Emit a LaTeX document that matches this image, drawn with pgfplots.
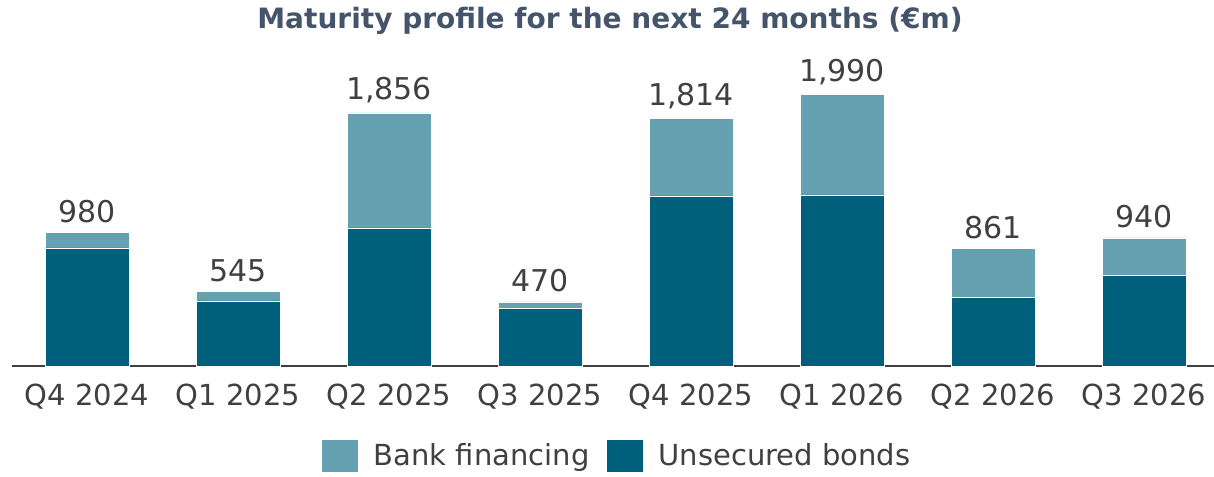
\documentclass[border=0pt]{standalone}
\usepackage{fontspec}
\setmainfont{DejaVu Sans}
\usepackage{pgfplots}
\pgfplotsset{compat=1.18}
\definecolor{bank}{HTML}{66A1B1}
\definecolor{unsec}{HTML}{005F7A}
\definecolor{txt}{HTML}{404040}
\definecolor{ttl}{HTML}{44546A}
\begin{document}
\begin{tikzpicture}
\begin{axis}[
  scale only axis, width=601pt, height=170.5pt,
  xmin=-0.5, xmax=7.46, ymin=0, ymax=2500,
  ybar stacked, bar width=42pt,
  axis x line*=bottom, axis y line=none,
  axis line style={-, txt, line width=1pt},
  xtick={0,1,2,3,4,5,6,7},
  xticklabels={Q4 2024,Q1 2025,Q2 2025,Q3 2025,Q4 2025,Q1 2026,Q2 2026,Q3 2026},
  major tick length=0pt,
  ticklabel style={font=\fontsize{14.5}{17}\selectfont, text=txt},
  xticklabel style={yshift=-5.5pt},
  /pgf/number format/assume math mode=true,
  legend style={at={(0.5046,-0.264)}, anchor=center, draw=none, legend columns=2,
    font=\fontsize{14.5}{17}\selectfont, text=txt,
    /tikz/every even column/.append style={column sep=6.5pt}},
  legend image code/.code={\fill[#1, draw=none] (0pt,-8pt) rectangle (18pt,8pt); \path[draw=none, fill=none] (0pt,0pt) -- (24pt,0pt);},
  reverse legend,
  clip=false,
]
\addplot[fill=unsec, draw=white, line width=0.2pt] coordinates {
  (0,866) (1,478) (2,1013) (3,423) (4,1247) (5,1255) (6,505) (7,666)};
\addlegendentry{Unsecured bonds}
\addplot[fill=bank, draw=white, line width=0.2pt] coordinates {
  (0,114) (1,67) (2,843) (3,47) (4,567) (5,735) (6,356) (7,274)};
\addlegendentry{Bank financing}
\end{axis}
\begin{axis}[
  scale only axis, width=601pt, height=170.5pt,
  xmin=-0.5, xmax=7.46, ymin=0, ymax=2500,
  hide axis, ybar, bar width=42pt, bar shift=0pt, clip=false,
  /pgf/number format/assume math mode=true,
]
\addplot[draw=none, fill=none,
  nodes near coords={\pgfmathprintnumber[1000 sep={,}, assume math mode=true]{\pgfplotspointmeta}},
  nodes near coords style={font=\fontsize{15}{18}\selectfont, text=txt, anchor=south, yshift=1.2pt}
  ] coordinates {
  (0,980) (1,545) (2,1856) (3,470) (4,1814) (5,1990) (6,861) (7,940)};
\end{axis}
\node[anchor=base, font=\fontsize{14}{17}\selectfont\bfseries, text=ttl] at (299.25pt,168.5pt)
  {Maturity profile for the next 24 months (€m)};
\pgfresetboundingbox
\path (-5.75pt,-55pt) rectangle (601.25pt,183pt);
\end{tikzpicture}
\end{document}
